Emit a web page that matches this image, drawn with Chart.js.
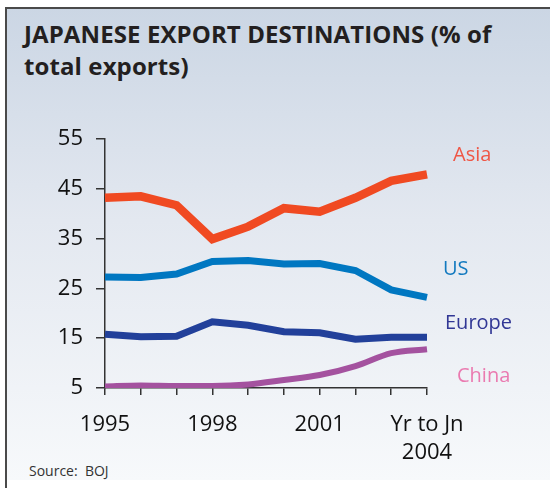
<!DOCTYPE html>
<html>
<head>
<meta charset="utf-8">
<script src="https://cdn.jsdelivr.net/npm/chart.js@4"></script>
<style>
  html, body { margin: 0; padding: 0; background: #fff; }
  #wrap { position: relative; width: 550px; height: 488px; overflow: hidden; font-family: "Open Sans", sans-serif; }
  #panel {
    position: absolute; left: 6px; top: 8px; width: 544px; height: 472px;
    background: linear-gradient(to bottom, #cbd6e4 0%, #e3e8f0 45%, #f7f9fb 100%);
  }
  #frame {
    position: absolute; left: 5px; top: 7px; width: 545px; height: 481px;
    border-top: 2px solid #4a4a4a; border-left: 2px solid #4a4a4a; box-sizing: border-box;
  }
  #title {
    position: absolute; left: 24px; top: 18px; margin: 0;
    font-weight: 700; font-size: 24px; line-height: 32px; letter-spacing: 0.1px; color: #231f20;
  }
  #source { position: absolute; left: 29px; top: 461px; font-size: 14px; color: #333; }
  #myChart { position: absolute; left: 0; top: 0; }
</style>
</head>
<body>
<div id="wrap">
  <div id="panel"></div>
  <div id="frame"></div>
  <div id="title">JAPANESE EXPORT DESTINATIONS (% of<br>total exports)</div>
  <div id="source">Source:&nbsp; BOJ</div>
  <canvas id="myChart" width="550" height="488"></canvas>
</div>
<script>
// categories + tick labels
const years = ['1995', '1996', '1997', '1998', '1999', '2000', '2001', '2002', '2003', 'Yr to Jn 2004'];
const tickLabels = ['1995', '', '', '1998', '', '', '2001', '', '', ['Yr to Jn', '2004']];
const yTicks = [5, 15, 25, 35, 45, 55];

// % of total exports
const asia = [43.2, 43.5, 41.7, 34.9, 37.4, 41.1, 40.4, 43.2, 46.6, 47.9];
const us = [27.3, 27.2, 27.9, 30.4, 30.6, 29.9, 30.0, 28.6, 24.7, 23.2];
const europe = [15.8, 15.3, 15.4, 18.3, 17.6, 16.3, 16.1, 14.8, 15.2, 15.2];
const china = [5.3, 5.5, 5.4, 5.4, 5.7, 6.6, 7.6, 9.4, 12.0, 12.8];

// where the series names sit (dx from chart right, y in data units)
const seriesLabels = [
  { text: 'Asia', dx: 26, y: 51.8, color: '#ef5645' },
  { text: 'US', dx: 16, y: 28.8, color: '#1279bf' },
  { text: 'Europe', dx: 18, y: 18.0, color: '#313795' },
  { text: 'China', dx: 30, y: 7.4, color: '#ea7ab0' },
];

const labelPlugin = {
  id: 'seriesLabels',
  afterDraw(chart) {
    const { ctx, chartArea, scales } = chart;
    ctx.save();
    ctx.font = '20px "Open Sans"';
    ctx.textBaseline = 'middle';
    ctx.textAlign = 'left';
    seriesLabels.forEach(l => {
      ctx.fillStyle = l.color;
      ctx.fillText(l.text, chartArea.right + l.dx, scales.y.getPixelForValue(l.y));
    });
    ctx.restore();
  }
};

const ctx = document.getElementById('myChart');

new Chart(ctx, {
  type: 'line',
  data: {
    labels: years,
    datasets: [
      { label: 'Asia', data: asia, borderColor: '#f04a22', borderWidth: 8.5, tension: 0 },
      { label: 'US', data: us, borderColor: '#0077c1', borderWidth: 7, tension: 0 },
      { label: 'Europe', data: europe, borderColor: '#22409a', borderWidth: 7, tension: 0 },
      { label: 'China', data: china, borderColor: '#a4529f', borderWidth: 6, cubicInterpolationMode: 'monotone' },
    ]
  },
  options: {
    responsive: false,
    animation: false,
    elements: { point: { radius: 0 } },
    layout: { padding: { left: 0, right: 123, top: 139, bottom: 0 } },
    plugins: { legend: { display: false }, tooltip: { enabled: false } },
    scales: {
      x: {
        offset: false,
        afterFit: s => { s.height = 100; },
        border: { color: '#333', width: 1.5 },
        grid: { drawOnChartArea: false, tickLength: 7, color: '#333', lineWidth: 1.5 },
        ticks: {
          autoSkip: false, maxRotation: 0, padding: 16, color: '#111',
          font: { family: 'Open Sans', size: 22, lineHeight: 1.27 },
          callback: (v, i) => tickLabels[i]
        }
      },
      y: {
        min: 5, max: 55,
        afterFit: s => { s.width = 105; },
        afterBuildTicks: s => { s.ticks = yTicks.map(v => ({ value: v })); },
        border: { color: '#333', width: 1.5 },
        grid: { drawOnChartArea: false, tickLength: 9, color: '#333', lineWidth: 1.5 },
        ticks: { padding: 13, color: '#111', font: { family: 'Open Sans', size: 22 } }
      }
    }
  },
  plugins: [labelPlugin]
});
</script>
</body>
</html>
